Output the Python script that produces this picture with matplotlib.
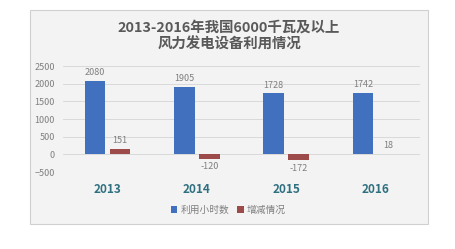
import matplotlib
matplotlib.use("Agg")
import matplotlib.pyplot as plt
from matplotlib.patches import Rectangle
import numpy as np

plt.rcParams['font.family'] = ['Noto Sans CJK SC', 'DejaVu Sans']

# data
years = ['2013', '2014', '2015', '2016']
hours = [2080, 1905, 1728, 1742]
change = [151, -120, -172, 18]
series_names = ['利用小时数', '增减情况']
title = '2013-2016年我国6000千瓦及以上\n风力发电设备利用情况'

blue = '#4070BE'
red = '#9C4A4A'
grey = '#7f7f7f'

fig = plt.figure(figsize=(4.55, 2.49), dpi=100)
fig.patch.set_facecolor('white')

# chart frame
fig.patches.append(Rectangle((30/455, 1-224/249), 398/455, 214/249,
                             transform=fig.transFigure, facecolor='#f3f3f3',
                             edgecolor='#d0d0d0', linewidth=0.8, zorder=-10))

ax = fig.add_axes([63/455, 1-172/249, 357/455, 106/249])
ax.set_facecolor('none')

x = np.arange(len(years))
w = 0.23
b1 = ax.bar(x - 0.14, hours, w, color=blue, label=series_names[0], zorder=3)
b2 = ax.bar(x + 0.14, change, w, color=red, label=series_names[1], zorder=3)

for xi, v in zip(x, hours):
    ax.text(xi - 0.14, v + 100, str(v), ha='center', va='bottom', fontsize=6.5, color=grey)
for xi, v in zip(x, change):
    if v >= 0:
        ax.text(xi + 0.14, v + 100, str(v), ha='center', va='bottom', fontsize=6.5, color=grey)
    else:
        ax.text(xi + 0.14, v - 90, str(v), ha='center', va='top', fontsize=6.5, color=grey)

ax.set_xlim(-0.5, 3.5)
ax.set_ylim(-500, 2500)
ax.set_yticks(range(-500, 2501, 500))
ax.tick_params(axis='y', labelsize=6.5, colors=grey, length=0, pad=6)
ax.yaxis.grid(True, color='#d9d9d9', linewidth=0.7, zorder=0)
ax.set_xticks(x)
ax.set_xticklabels(years)
ax.tick_params(axis='x', length=0, pad=8, labelsize=8.5, labelcolor='#2E7080')
for t in ax.get_xticklabels():
    t.set_fontweight('bold')
for s in ax.spines.values():
    s.set_visible(False)

fig.text(229/455, 1-36/249, title, ha='center', va='center', fontsize=10.4,
         fontweight='bold', color='#595959', linespacing=1.3)

fig.legend(handles=[b1, b2], loc='center', bbox_to_anchor=(228/455, 1-210/249),
           ncol=2, frameon=False, fontsize=7, handlelength=0.7, handleheight=0.7,
           handletextpad=0.3, columnspacing=0.8, labelcolor=grey)

fig.savefig('out.png', dpi=100)
